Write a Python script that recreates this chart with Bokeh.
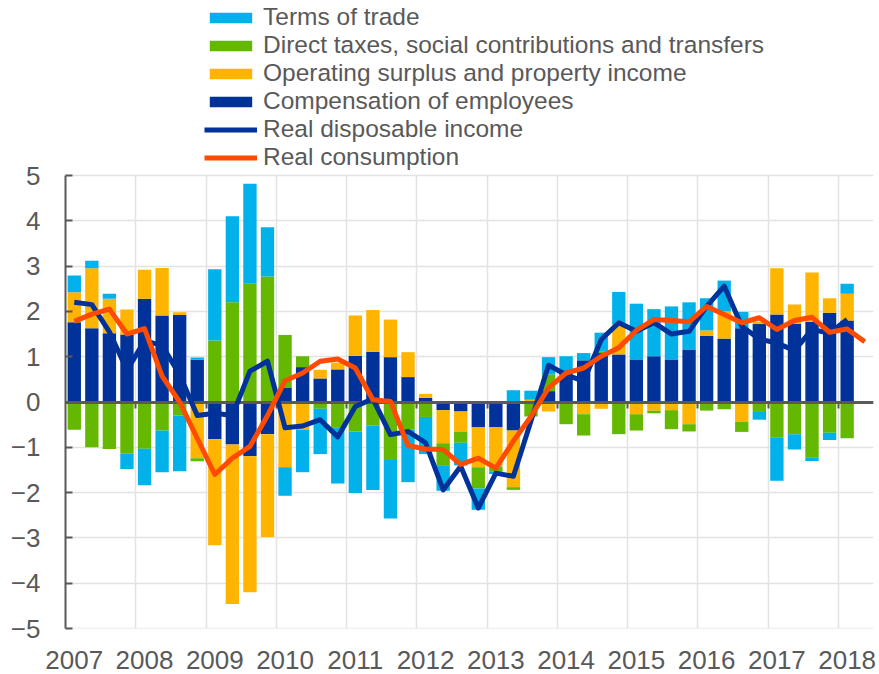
import numpy as np
from bokeh.plotting import figure
from bokeh.models import Legend, LegendItem, LinearAxis, FixedTicker
from bokeh.embed import file_html
from bokeh.resources import INLINE

# ---------------- data (quarterly, 2007Q1 ...) ----------------
years = ["2007", "2008", "2009", "2010", "2011", "2012",
         "2013", "2014", "2015", "2016", "2017", "2018"]

# Bars: 2007Q1 - 2018Q1
compensation = [1.76, 1.63, 1.52, 1.49, 2.28, 1.91, 1.92, 0.93,
                -0.82, -0.94, -1.20, -0.71, 0.32, 0.77, 0.52, 0.72,
                1.02, 1.11, 0.99, 0.55, 0.09, -0.18, -0.21, -0.56,
                -0.56, -0.63, 0.00, 0.24, 0.70, 0.92, 1.08, 1.05,
                0.94, 1.01, 0.94, 1.16, 1.46, 1.40, 1.63, 1.72,
                1.93, 1.72, 1.77, 1.97, 1.80]
operating = [0.66, 1.32, 0.76, 0.55, 0.64, 1.05, 0.06, -1.24,
             -2.34, -3.52, -3.00, -2.27, -1.44, -0.61, 0.19, 0.15,
             0.89, 0.92, 0.83, 0.55, 0.09, -0.73, -0.45, -0.88,
             -0.86, -1.25, 0.05, -0.21, 0.00, -0.27, -0.15, 0.66,
             -0.27, -0.19, -0.18, -0.49, 0.12, 0.60, -0.44, 0.05,
             1.02, 0.43, 1.09, 0.32, 0.59]
direct_taxes = [-0.61, -1.00, -1.04, -1.14, -1.03, -0.63, -0.30, -0.07,
                1.36, 2.20, 2.61, 2.77, 1.16, 0.24, -0.15, -0.57,
                -0.65, -0.52, -1.28, -0.61, -0.33, -0.50, -0.24, -0.47,
                -0.11, -0.06, -0.32, 0.37, -0.49, -0.47, 0.04, -0.71,
                -0.36, -0.06, -0.42, -0.16, -0.19, -0.16, -0.22, -0.22,
                -0.78, -0.71, -1.22, -0.68, -0.80]
terms_of_trade = [0.37, 0.17, 0.11, -0.34, -0.81, -0.92, -1.23, 0.05,
                  1.57, 1.90, 2.21, 1.09, -0.63, -0.94, -1.00, -1.23,
                  -1.36, -1.42, -1.29, -1.16, -0.82, -0.55, -0.50, -0.47,
                  -0.06, 0.26, 0.20, 0.38, 0.31, 0.16, 0.41, 0.72,
                  1.23, 1.04, 1.17, 1.04, 0.71, 0.68, 0.36, -0.17,
                  -0.96, -0.34, -0.08, -0.16, 0.22]

# Lines
real_disposable_income = [2.20, 2.15, 1.55, 0.70, 1.35, 1.25, 0.60, -0.30,
                          -0.25, -0.30, 0.68, 0.90, -0.57, -0.53, -0.39, -0.77,
                          -0.10, 0.07, -0.72, -0.65, -0.90, -1.94, -1.42, -2.34,
                          -1.57, -1.64, -0.42, 0.81, 0.60, 0.46, 1.38, 1.75,
                          1.56, 1.75, 1.50, 1.56, 2.11, 2.56, 1.67, 1.39,
                          1.30, 1.14, 1.60, 1.52, 1.82]
real_consumption = [1.78, 1.94, 2.05, 1.50, 1.62, 0.57, 0.00, -0.80,
                    -1.60, -1.24, -0.98, -0.30, 0.47, 0.64, 0.90, 0.95,
                    0.75, 0.05, 0.01, -0.96, -1.04, -1.05, -1.38, -1.24,
                    -1.46, -0.86, -0.32, 0.31, 0.64, 0.75, 1.01, 1.20,
                    1.58, 1.82, 1.80, 1.77, 2.11, 1.93, 1.75, 1.86,
                    1.60, 1.80, 1.87, 1.54, 1.61, 1.33]

n_cat = len(real_consumption)          # 46 quarters on the axis
TEXT = "#595959"
GRID = "#E3E3E3"
FONT = "Liberation Sans"

W, H = 879, 674
LEFT, RIGHT, BOTTOM = 65, 6, 46
PLOT_TOP = 175                     # pixel row of the value 5
frame_h = H - BOTTOM               # frame spans whole height (room for legend)
px_per_unit = (frame_h - PLOT_TOP) / 10.0
y_top = 5 + PLOT_TOP / px_per_unit

p = figure(width=W, height=H, x_range=(-0.5, n_cat - 0.5), y_range=(-5, y_top),
           output_backend="svg", toolbar_location=None,
           min_border_left=LEFT, min_border_right=RIGHT, min_border_top=0,
           min_border_bottom=BOTTOM)
p.outline_line_color = None
p.background_fill_color = "white"
p.border_fill_color = "white"

# stacked bars (positives and negatives stacked separately, in series order)
series = [("Compensation of employees", compensation, "#003299"),
          ("Operating surplus and property income", operating, "#FFB400"),
          ("Direct taxes, social contributions and transfers", direct_taxes, "#65B800"),
          ("Terms of trade", terms_of_trade, "#00B1EA")]
xb = np.arange(len(compensation))
pos_base = np.zeros(len(xb))
neg_base = np.zeros(len(xb))
bar_r = {}
for name, vals, col in series:
    v = np.array(vals, dtype=float)
    bottom = np.where(v >= 0, pos_base, neg_base + v)
    top = np.where(v >= 0, pos_base + v, neg_base)
    bar_r[name] = p.vbar(x=xb, bottom=bottom, top=top, width=0.76,
                         fill_color=col, line_color=None)
    pos_base = pos_base + np.clip(v, 0, None)
    neg_base = neg_base + np.clip(v, None, 0)

xl = np.arange(len(real_disposable_income))
r_rdi = p.line(xl, real_disposable_income, line_color="#003299", line_width=5,
               line_join="round", level="overlay")
xc = np.arange(n_cat)
r_cons = p.line(xc, real_consumption, line_color="#FF4B00", line_width=5,
                line_join="round", level="overlay")

year_starts = [4 * i for i in range(len(years))]
boundaries = [4 * i - 0.5 for i in range(1, len(years))]
y_ticks = list(range(-5, 6))

# horizontal grid only at -5..5
p.ygrid.ticker = FixedTicker(ticks=y_ticks)
p.ygrid.grid_line_color = GRID
p.ygrid.grid_line_width = 1.5
p.xgrid.visible = False

# vertical year gridlines limited to -5..5: long ticks of an axis at y=-5
grid_axis = LinearAxis(fixed_location=-5, ticker=FixedTicker(ticks=boundaries),
                       level="underlay")
grid_axis.axis_line_color = GRID
grid_axis.axis_line_width = 1.5
grid_axis.major_tick_line_color = GRID
grid_axis.major_tick_line_width = 1.5
grid_axis.major_tick_in = int(round(10 * px_per_unit))
grid_axis.major_tick_out = 0
grid_axis.minor_tick_line_color = None
grid_axis.major_label_overrides = {t: "" for t in boundaries}
grid_axis.major_label_text_font_size = "0px"
p.add_layout(grid_axis, "below")

# bottom axis: only year labels
p.xaxis[0].ticker = FixedTicker(ticks=year_starts)
p.xaxis[0].major_label_overrides = {t: y for t, y in zip(year_starts, years)}
p.xaxis[0].axis_line_color = None
p.xaxis[0].major_tick_line_color = None
p.xaxis[0].minor_tick_line_color = None
p.xaxis[0].major_label_standoff = 16
p.xaxis[0].major_label_text_font = FONT
p.xaxis[0].major_label_text_font_size = "26px"
p.xaxis[0].major_label_text_color = TEXT

# left axis
p.yaxis.ticker = FixedTicker(ticks=y_ticks)
p.yaxis.bounds = (-5, 5)
p.yaxis.axis_line_color = TEXT
p.yaxis.axis_line_width = 2
p.yaxis.major_tick_line_color = TEXT
p.yaxis.major_tick_line_width = 2
p.yaxis.major_tick_in = 7
p.yaxis.major_tick_out = 0
p.yaxis.minor_tick_line_color = None
p.yaxis.major_label_standoff = 25
p.yaxis.major_label_text_font = FONT
p.yaxis.major_label_text_font_size = "26px"
p.yaxis.major_label_text_color = TEXT

# zero line with category tick marks
zero_axis = LinearAxis(fixed_location=0, ticker=FixedTicker(ticks=boundaries))
zero_axis.axis_line_color = TEXT
zero_axis.axis_line_width = 3
zero_axis.major_tick_line_color = TEXT
zero_axis.major_tick_line_width = 2
zero_axis.major_tick_in = 0
zero_axis.major_tick_out = 6
zero_axis.minor_tick_line_color = None
zero_axis.major_label_overrides = {t: "" for t in boundaries}
zero_axis.major_label_text_font_size = "0px"
p.add_layout(zero_axis, "below")

legend = Legend(items=[
    LegendItem(label="Terms of trade", renderers=[bar_r["Terms of trade"]]),
    LegendItem(label="Direct taxes, social contributions and transfers",
               renderers=[bar_r["Direct taxes, social contributions and transfers"]]),
    LegendItem(label="Operating surplus and property income",
               renderers=[bar_r["Operating surplus and property income"]]),
    LegendItem(label="Compensation of employees",
               renderers=[bar_r["Compensation of employees"]]),
    LegendItem(label="Real disposable income", renderers=[r_rdi]),
    LegendItem(label="Real consumption", renderers=[r_cons]),
], location=(139, frame_h - 171))
legend.padding = 0
legend.margin = 0
legend.spacing = 0
legend.border_line_color = None
legend.background_fill_alpha = 0
legend.glyph_width = 53
legend.glyph_height = 13
legend.label_height = 27
legend.label_standoff = 6
legend.label_text_font = FONT
legend.label_text_font_size = "24.5px"
legend.label_text_color = TEXT
p.add_layout(legend, "center")

open("out.html", "w").write(file_html(p, INLINE))
